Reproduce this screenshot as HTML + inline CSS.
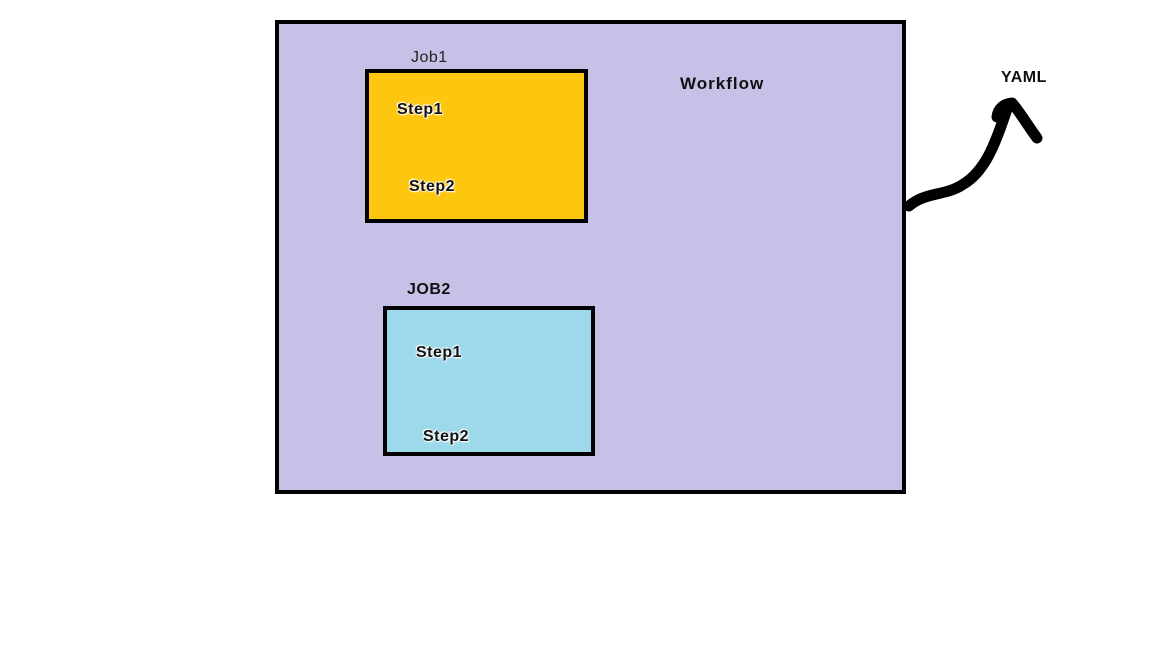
<!DOCTYPE html>
<html><head><style>
body{margin:0;width:1152px;height:648px;background:#fff;position:relative;overflow:hidden;font-family:"Liberation Sans",sans-serif}
.b{position:absolute;box-sizing:border-box;border:4px solid #000}
.t{position:absolute;font-weight:bold;font-size:16px;color:#111;text-shadow:0 0 2px #fff,0 0 2px #fff,1px 1px 1px #fff,-1px -1px 1px #fff;white-space:nowrap;letter-spacing:0.5px}
</style></head><body>
<div class="b" style="left:275px;top:20px;width:631px;height:474px;background:#c8c0e6"></div>
<div class="b" style="left:365px;top:69px;width:223px;height:154px;background:#fec70f"></div>
<div class="b" style="left:383px;top:306px;width:212px;height:150px;background:#9dd9ea"></div>
<div class="t" style="left:411px;top:49px;font-weight:normal;text-shadow:none;color:#222">Job1</div>
<div class="t" style="left:397px;top:101px">Step1</div>
<div class="t" style="left:409px;top:178px">Step2</div>
<div class="t" style="left:407px;top:281px;text-shadow:none">JOB2</div>
<div class="t" style="left:416px;top:344px">Step1</div>
<div class="t" style="left:423px;top:428px">Step2</div>
<div class="t" style="left:680px;top:74px;text-shadow:none;font-size:17px;letter-spacing:1px">Workflow</div>
<div class="t" style="left:1001px;top:69px;text-shadow:none">YAML</div>
<svg style="position:absolute;left:0;top:0" width="1152" height="648">
<path d="M909,206 C925,192 945,196 962,185 C985,172 995,145 1008,106 M997,117 C998,108 1004,104 1012,103 C1020,112 1028,126 1037,138" fill="none" stroke="#000" stroke-width="11" stroke-linecap="round" stroke-linejoin="round"/>
</svg>
</body></html>
